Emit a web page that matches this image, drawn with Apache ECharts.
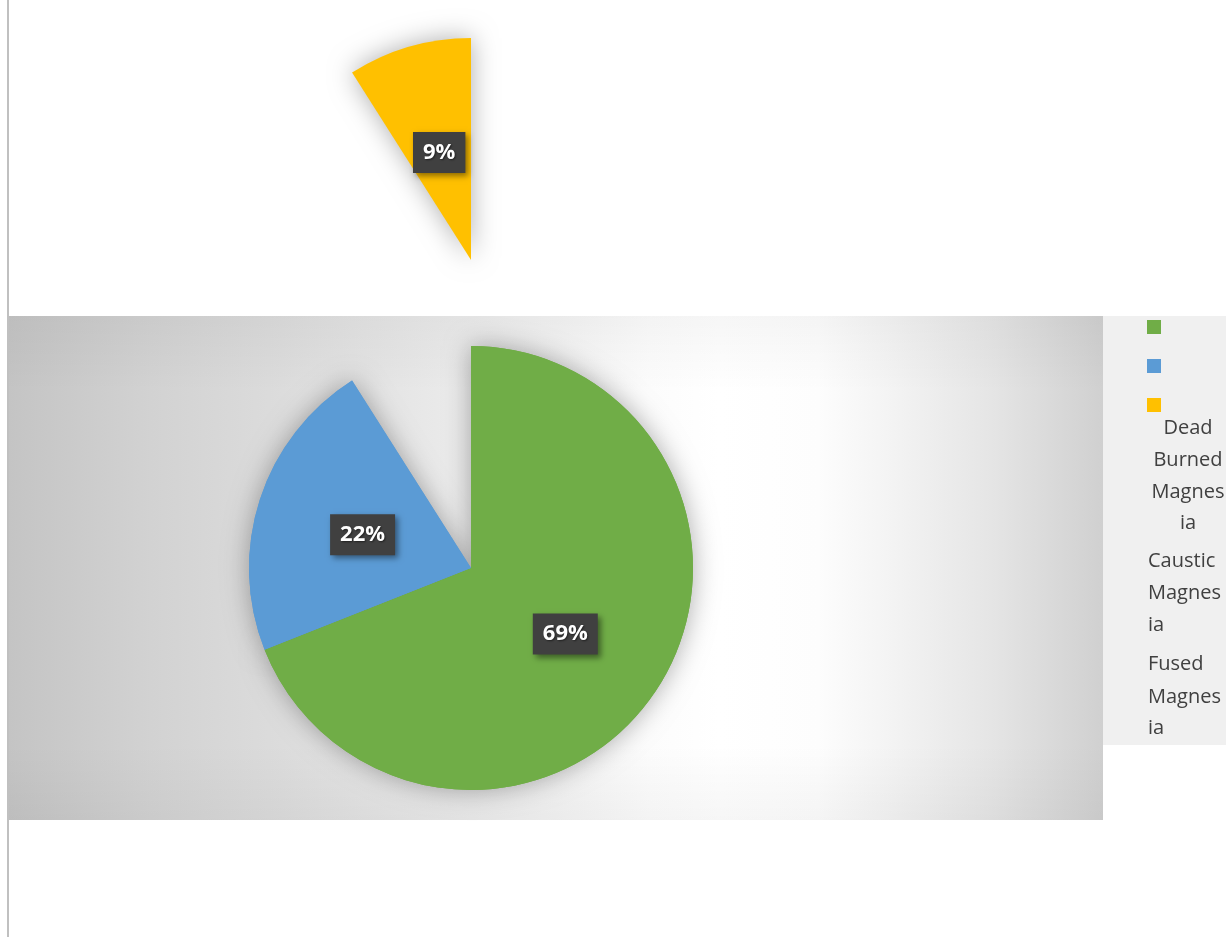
<!DOCTYPE html>
<html>
<head>
<meta charset="utf-8">
<script src="https://cdn.jsdelivr.net/npm/echarts@6/dist/echarts.min.js"></script>
<style>html,body{margin:0;padding:0;background:#fff;}#main{width:1226px;height:937px;}</style>
</head>
<body>
<div id="main"></div>
<script>
const categories = ['Dead Burned Magnesia', 'Caustic Magnesia', 'Fused Magnesia'];
const values = [69, 22, 9];
const colors = ['#70AD47', '#5B9BD5', '#FFC000'];
const legendLines = [['Dead', 'Burned', 'Magnes', 'ia'], ['Caustic', 'Magnes', 'ia'], ['Fused', 'Magnes', 'ia']];

const chart = echarts.init(document.getElementById('main'));

const labelStyle = {
  show: true,
  position: 'inside',
  formatter: '{d}%',
  color: '#ffffff',
  fontFamily: 'Open Sans',
  fontWeight: 'bold',
  fontSize: 22,
  lineHeight: 23,
  backgroundColor: '#404040',
  padding: [9, 10],
  offset: [0, 2],
  shadowBlur: 6,
  shadowColor: 'rgba(0,0,0,0.45)',
  shadowOffsetX: 3,
  shadowOffsetY: 3,
  textShadowBlur: 2,
  textShadowColor: 'rgba(0,0,0,0.5)',
  textShadowOffsetX: 1,
  textShadowOffsetY: 1
};
const shadowStyle = { shadowBlur: 26, shadowColor: 'rgba(0,0,0,0.32)', borderWidth: 0 };

function mainData(withShadow) {
  return categories.map((c, i) => ({
    name: c,
    value: values[i],
    itemStyle: Object.assign({ color: i === 2 ? 'rgba(0,0,0,0)' : colors[i] }, withShadow ? shadowStyle : {}),
    label: { show: i !== 2 && !withShadow }
  }));
}
function explodedData() {
  return categories.map((c, i) => ({
    name: c,
    value: values[i],
    itemStyle: Object.assign({ color: i === 2 ? colors[i] : 'rgba(0,0,0,0)' }, i === 2 ? shadowStyle : {}),
    label: { show: i === 2 }
  }));
}

const legendText = [];
const blockX = [1188, 1148, 1148];
const blockAlign = ['center', 'left', 'left'];
const blockY = [[428, 460, 492, 523], [561, 593, 625], [664, 697, 728]];
legendLines.forEach((lines, b) => {
  lines.forEach((t, j) => {
    legendText.push({
      type: 'text',
      x: blockX[b],
      y: blockY[b][j],
      style: { text: t, fill: '#404040', font: '20px "Open Sans"', textAlign: blockAlign[b], textVerticalAlign: 'middle' }
    });
  });
});

chart.setOption({
  animation: false,
  color: colors,
  graphic: [
    {
      type: 'rect', z: -10,
      shape: { x: 8, y: 316, width: 1095, height: 504 },
      style: {
        fill: new echarts.graphic.LinearGradient(0, 0, 1, 0, [
          { offset: 0, color: '#c4c4c4' },
          { offset: 0.13, color: '#d2d2d2' },
          { offset: 0.25, color: '#dcdcdc' },
          { offset: 0.38, color: '#e8e8e8' },
          { offset: 0.50, color: '#f3f3f3' },
          { offset: 0.586, color: '#fcfcfc' },
          { offset: 0.65, color: '#ffffff' },
          { offset: 0.74, color: '#fdfdfd' },
          { offset: 0.815, color: '#f2f2f2' },
          { offset: 0.893, color: '#e6e6e6' },
          { offset: 1, color: '#d0d0d0' }
        ])
      }
    },
    {
      type: 'rect', z: -9,
      shape: { x: 8, y: 316, width: 1095, height: 504 },
      style: {
        fill: new echarts.graphic.LinearGradient(0, 0, 0, 1, [
          { offset: 0, color: 'rgba(0,0,0,0.035)' },
          { offset: 0.15, color: 'rgba(0,0,0,0)' },
          { offset: 0.85, color: 'rgba(0,0,0,0)' },
          { offset: 1, color: 'rgba(0,0,0,0.035)' }
        ])
      }
    },
    { type: 'rect', z: -8, shape: { x: 1103, y: 316, width: 123, height: 429 }, style: { fill: '#f0f0f0' } },
    { type: 'rect', z: -8, shape: { x: 7, y: 0, width: 2, height: 937 }, style: { fill: '#c0c0c0' } }
  ].concat(legendText),
  legend: {
    orient: 'vertical',
    left: 1142,
    top: 315,
    itemWidth: 14,
    itemHeight: 14,
    itemGap: 25,
    icon: 'rect',
    selectedMode: false,
    formatter: () => '',
    textStyle: { fontSize: 10 },
    data: categories.map((c, i) => ({ name: c, itemStyle: { color: colors[i] } }))
  },
  series: [
    {
      type: 'pie', silent: true, center: [471, 568], radius: [0, 222], startAngle: 90,
      label: labelStyle, labelLine: { show: false },
      data: mainData(true)
    },
    {
      type: 'pie', silent: true, center: [471, 568], radius: [0, 222], startAngle: 90,
      label: labelStyle, labelLine: { show: false },
      data: mainData(false)
    },
    {
      type: 'pie', silent: true, center: [471, 260], radius: [0, 222], startAngle: 90,
      label: labelStyle, labelLine: { show: false },
      data: explodedData()
    }
  ]
});
</script>
</body>
</html>
